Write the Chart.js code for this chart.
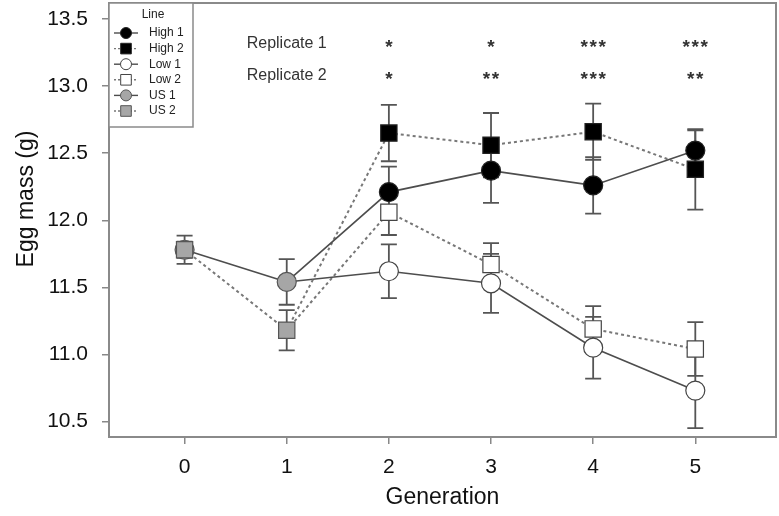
<!DOCTYPE html>
<html>
<head>
<meta charset="utf-8">
<title>Egg mass by generation</title>
<script src="https://cdn.jsdelivr.net/npm/chart.js@4/dist/chart.umd.min.js"></script>
<style>
  body { margin: 0; background: #fff; }
  #wrap { width: 779px; height: 516px; position: relative; }
</style>
</head>
<body>
<div id="wrap"><canvas id="eggChart"></canvas></div>
<script>
// Generations and y tick values
const generations = [0, 1, 2, 3, 4, 5];
const yTicks = [10.5, 11.0, 11.5, 12.0, 12.5, 13.0, 13.5];

// Unselected lines, generations 0-1 (mean, +/- error)
const us1 = [11.78, 11.54];
const us1Err = [0.06, 0.17];
const us2 = [11.78, 11.18];
const us2Err = [0.105, 0.15];

// Selected lines, generations 2-5
const high1 = [12.21, 12.37, 12.26, 12.52];
const high1Err = [0.19, 0.24, 0.21, 0.15];
const high2 = [12.65, 12.56, 12.66, 12.38];
const high2Err = [0.21, 0.24, 0.21, 0.3];
const low1 = [11.62, 11.53, 11.05, 10.73];
const low1Err = [0.2, 0.22, 0.23, 0.28];
const low2 = [12.06, 11.67, 11.19, 11.04];
const low2Err = [0.17, 0.16, 0.17, 0.2];

// Significance marks per generation 2-5
const replicateLabels = ["Replicate 1", "Replicate 2"];
const rep1Stars = ["*", "*", "***", "***"];
const rep2Stars = ["*", "**", "***", "**"];

const FONT = "'Liberation Sans', Arial, Helvetica, sans-serif";
Chart.defaults.font.family = FONT;

// unselected series: gen 0 and 1
function baseData(values, errs) {
  return values.map((v, i) => ({ x: generations[i], y: v, err: errs[i] }));
}

// selected series start from the unselected line's value at gen 1
function selectedData(start, values, errs) {
  const pts = [{ x: generations[1], y: start, err: null }];
  values.forEach((v, i) => pts.push({ x: generations[i + 2], y: v, err: errs[i] }));
  return pts;
}

const solid = { borderColor: "#4d4d4d", borderWidth: 1.6, borderDash: [] };
const dashed = { borderColor: "#777", borderWidth: 2, borderDash: [3, 3] };

function series(label, data, lineStyle, shape, fillColor, edgeColor, order, hideFirst) {
  const r = shape === "circle" ? 9.5 : 11.5;
  return {
    label: label,
    data: data,
    order: order,
    ...lineStyle,
    pointStyle: shape,
    pointRadius: (ctx) => (hideFirst && ctx.dataIndex === 0 ? 0 : r),
    pointBackgroundColor: fillColor,
    pointBorderColor: edgeColor,
    pointBorderWidth: 1.2,
    legendRadius: shape === "circle" ? 5.5 : 7.5,
    fill: false,
    tension: 0,
  };
}

const datasets = [
  series("High 1", selectedData(us1[1], high1, high1Err), solid, "circle", "#000", "#222", 2, true),
  series("High 2", selectedData(us2[1], high2, high2Err), dashed, "rect", "#000", "#222", 3, true),
  series("Low 1", selectedData(us1[1], low1, low1Err), solid, "circle", "#fff", "#444", 4, true),
  series("Low 2", selectedData(us2[1], low2, low2Err), dashed, "rect", "#fff", "#444", 5, true),
  series("US 1", baseData(us1, us1Err), solid, "circle", "#a6a6a6", "#555", 1, false),
  series("US 2", baseData(us2, us2Err), dashed, "rect", "#a6a6a6", "#555", 0, false),
];

// Error bars under the markers
const errorBars = {
  id: "errorBars",
  beforeDatasetsDraw(chart) {
    const ctx = chart.ctx;
    const xs = chart.scales.x;
    const ys = chart.scales.y;
    ctx.save();
    ctx.strokeStyle = "#555";
    ctx.lineWidth = 1.8;
    chart.data.datasets.forEach((ds) => {
      ds.data.forEach((p) => {
        if (p.err == null) return;
        const x = xs.getPixelForValue(p.x);
        const yTop = ys.getPixelForValue(p.y + p.err);
        const yBot = ys.getPixelForValue(p.y - p.err);
        ctx.beginPath();
        ctx.moveTo(x, yTop);
        ctx.lineTo(x, yBot);
        ctx.moveTo(x - 8, yTop);
        ctx.lineTo(x + 8, yTop);
        ctx.moveTo(x - 8, yBot);
        ctx.lineTo(x + 8, yBot);
        ctx.stroke();
      });
    });
    ctx.restore();
  },
};

// Frame round the plot area
const frame = {
  id: "frame",
  afterDatasetsDraw(chart) {
    const { ctx, chartArea: a } = chart;
    ctx.save();
    ctx.strokeStyle = "#8a8a8a";
    ctx.lineWidth = 2;
    ctx.strokeRect(a.left, a.top, a.right - a.left, a.bottom - a.top);
    ctx.restore();
  },
};

// Boxed legend in the top left corner
const boxLegend = {
  id: "boxLegend",
  afterDraw(chart) {
    const { ctx, chartArea: a } = chart;
    const left = a.left;
    const top = a.top;
    ctx.save();
    ctx.fillStyle = "#fff";
    ctx.strokeStyle = "#8a8a8a";
    ctx.lineWidth = 1.5;
    ctx.fillRect(left, top, 84, 124);
    ctx.strokeRect(left, top, 84, 124);

    ctx.fillStyle = "#222";
    ctx.font = "12px " + FONT;
    ctx.textAlign = "center";
    ctx.textBaseline = "middle";
    ctx.fillText("Line", left + 44, top + 12);

    chart.data.datasets.forEach((ds, i) => {
      const y = top + 30 + i * 15.6;
      ctx.strokeStyle = ds.borderColor;
      ctx.lineWidth = 1.4;
      ctx.setLineDash(ds.borderDash.length ? [2, 2] : []);
      ctx.beginPath();
      ctx.moveTo(left + 5, y);
      ctx.lineTo(left + 29, y);
      ctx.stroke();
      ctx.setLineDash([]);
      ctx.fillStyle = ds.pointBackgroundColor;
      ctx.strokeStyle = ds.pointBorderColor;
      ctx.lineWidth = 1;
      Chart.helpers.drawPoint(ctx, {
        pointStyle: ds.pointStyle,
        radius: ds.legendRadius,
        rotation: 0,
        borderWidth: 1,
      }, left + 17, y);
      ctx.fillStyle = "#222";
      ctx.textAlign = "left";
      ctx.fillText(ds.label, left + 40, y);
    });
    ctx.restore();
  },
};

// Replicate significance rows and the y axis title
const annotations = {
  id: "annotations",
  afterDraw(chart) {
    const { ctx, chartArea: a } = chart;
    const xs = chart.scales.x;
    const rows = [rep1Stars, rep2Stars];
    ctx.save();
    ctx.fillStyle = "#333";
    ctx.textBaseline = "middle";
    rows.forEach((stars, r) => {
      const y = a.top + 41 + r * 32;
      ctx.font = "16px " + FONT;
      ctx.textAlign = "center";
      ctx.fillText(replicateLabels[r], xs.getPixelForValue(generations[1]), y);
      ctx.font = "bold 19px " + FONT;
      stars.forEach((s, i) => {
        const cx = xs.getPixelForValue(generations[i + 2]);
        const n = s.length;
        for (let k = 0; k < n; k++) {
          ctx.fillText("*", cx + (k - (n - 1) / 2) * 9, y + 4);
        }
      });
    });

    // y title sits a little above the middle of the axis
    ctx.fillStyle = "#111";
    ctx.font = "23px " + FONT;
    ctx.textAlign = "center";
    ctx.translate(27, 199);
    ctx.rotate(-Math.PI / 2);
    ctx.fillText("Egg mass (g)", 0, 0);
    ctx.restore();
  },
};

new Chart(document.getElementById("eggChart"), {
  type: "line",
  data: { datasets: datasets },
  options: {
    responsive: true,
    maintainAspectRatio: false,
    animation: false,
    events: [],
    layout: {
      autoPadding: false,
      padding: { top: 3, right: 3, left: 0, bottom: 0 },
    },
    plugins: {
      legend: { display: false },
      tooltip: { enabled: false },
    },
    scales: {
      x: {
        type: "linear",
        min: -0.74,
        max: 5.79,
        afterBuildTicks: (scale) => {
          scale.ticks = generations.map((v) => ({ value: v }));
        },
        afterFit: (scale) => {
          scale.height = 79;
          scale.paddingLeft = 0;
          scale.paddingRight = 0;
        },
        ticks: {
          color: "#111",
          font: { size: 21 },
          padding: 11,
          callback: (v) => String(v),
        },
        grid: {
          drawOnChartArea: false,
          tickLength: 7,
          color: "#888",
          lineWidth: 1.5,
        },
        border: { display: false },
        title: {
          display: true,
          text: "Generation",
          color: "#111",
          font: { size: 23 },
          padding: { top: 0, bottom: 5 },
        },
      },
      y: {
        type: "linear",
        min: 10.384,
        max: 13.62,
        afterBuildTicks: (scale) => {
          scale.ticks = yTicks.map((v) => ({ value: v }));
        },
        afterFit: (scale) => {
          scale.width = 109;
          scale.paddingTop = 0;
          scale.paddingBottom = 0;
        },
        ticks: {
          color: "#111",
          font: { size: 21 },
          padding: 14,
          callback: (v) => Number(v).toFixed(1),
        },
        grid: {
          drawOnChartArea: false,
          tickLength: 7,
          color: "#888",
          lineWidth: 1.5,
        },
        border: { display: false },
        title: { display: false },
      },
    },
  },
  plugins: [errorBars, frame, boxLegend, annotations],
});
</script>
</body>
</html>
